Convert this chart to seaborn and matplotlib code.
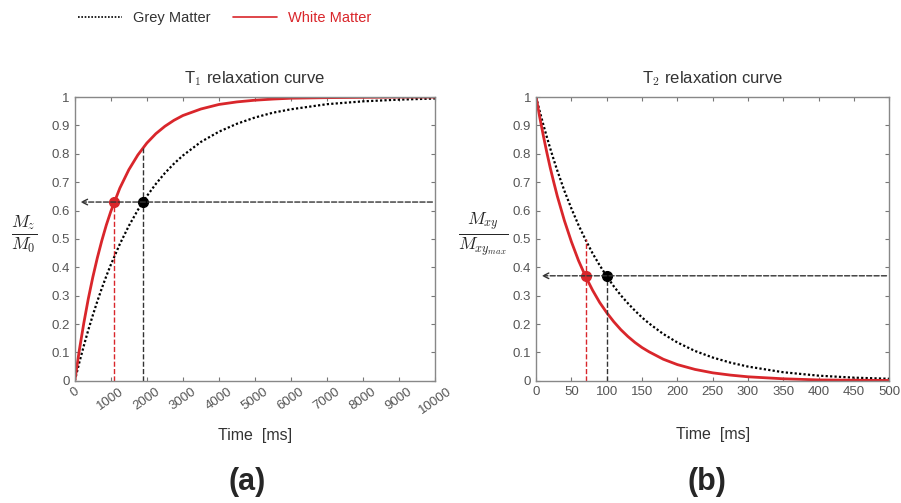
import numpy as np
import pandas as pd
import matplotlib
matplotlib.use("Agg")
import matplotlib.pyplot as plt
import seaborn as sns
from matplotlib.lines import Line2D

# -------------------------
# Data
# -------------------------
t1_time = [0, 125, 250, 375, 500, 625, 750, 875, 1000, 1250, 1500, 1750, 2000,
           2250, 2500, 2750, 3000, 3500, 4000, 4500, 5000, 5500, 6000, 7000,
           8000, 9000, 10000]
t1_white = [0, 0.107, 0.203, 0.289, 0.365, 0.433, 0.494, 0.549, 0.597, 0.679,
            0.744, 0.796, 0.838, 0.871, 0.897, 0.918, 0.935, 0.958, 0.974,
            0.983, 0.989, 0.993, 0.996, 0.998, 0.999, 1.0, 1.0]
t1_grey = [0, 0.064, 0.123, 0.179, 0.231, 0.280, 0.326, 0.369, 0.409, 0.482,
           0.546, 0.602, 0.651, 0.694, 0.732, 0.765, 0.794, 0.842, 0.878,
           0.906, 0.928, 0.945, 0.957, 0.975, 0.985, 0.991, 0.995]

t2_time = [0, 5, 10, 15, 20, 25, 30, 40, 50, 60, 70, 80, 90, 100, 110, 120,
           130, 140, 150, 160, 180, 200, 225, 250, 275, 300, 350, 400, 450, 500]
t2_white = [1.0, 0.931, 0.867, 0.807, 0.751, 0.700, 0.651, 0.565, 0.490, 0.424,
            0.368, 0.319, 0.276, 0.240, 0.208, 0.180, 0.156, 0.135, 0.117,
            0.102, 0.076, 0.057, 0.040, 0.028, 0.020, 0.014, 0.007, 0.003,
            0.002, 0.001]
t2_grey = [1.0, 0.951, 0.905, 0.861, 0.819, 0.779, 0.741, 0.670, 0.607, 0.549,
           0.497, 0.449, 0.407, 0.368, 0.333, 0.301, 0.273, 0.247, 0.223,
           0.202, 0.165, 0.135, 0.105, 0.082, 0.064, 0.050, 0.030, 0.018,
           0.011, 0.007]

# marker points (relaxation times and level)
t1_white_pt = 1100
t1_grey_pt = 1900
t1_level = 0.63
t1_grey_guide_top = 0.82

t2_white_pt = 70
t2_grey_pt = 100
t2_level = 0.37
t2_white_guide_top = 0.50

RED = "#d9262b"
GREY_TXT = "#555555"

sns.set_style("white")
plt.rcParams["font.family"] = ["Liberation Sans", "DejaVu Sans"]
plt.rcParams["mathtext.fontset"] = "cm"

fig = plt.figure(figsize=(9.01, 5.03), dpi=100)
ax1 = fig.add_axes([0.083, 0.243, 0.400, 0.564])
ax2 = fig.add_axes([0.595, 0.243, 0.392, 0.564])


def style_axes(ax, labelpad):
    for s in ax.spines.values():
        s.set_color("#888888")
        s.set_linewidth(1.0)
    ax.tick_params(direction="in", length=3, width=0.8, color="#777777",
                   top=True, right=True, labelsize=9.5, labelcolor=GREY_TXT,
                   bottom=True, left=True)
    ax.set_yticks(np.arange(0, 1.01, 0.1))
    ax.set_yticklabels(["0"] + [f"{v:.1f}" for v in np.arange(0.1, 0.95, 0.1)] + ["1"])
    ax.set_ylim(0, 1)
    ax.set_xlabel("Time  [ms]", fontsize=11.5, color="#333333", labelpad=labelpad)
    ax.set_ylabel("")


# ---- T1 panel
df1 = pd.DataFrame({"time": t1_time, "grey": t1_grey, "white": t1_white})
sns.lineplot(data=df1, x="time", y="grey", ax=ax1, color="black",
             linestyle=(0, (1, 1)), linewidth=1.6)
sns.lineplot(data=df1, x="time", y="white", ax=ax1, color=RED, linewidth=2)
ax1.annotate("", xy=(80, t1_level), xytext=(10000, t1_level),
             arrowprops=dict(arrowstyle="->", linestyle="--", color="#333333", lw=1))
ax1.plot([t1_white_pt, t1_white_pt], [0, t1_level], color=RED, ls="--", lw=1)
ax1.plot([t1_grey_pt, t1_grey_pt], [0, t1_grey_guide_top], color="#333333", ls="--", lw=1)
ax1.plot(t1_white_pt, t1_level, "o", color=RED, ms=7)
ax1.plot(t1_grey_pt, t1_level, "o", color="black", ms=7)
ax1.set_xlim(0, 10000)
ax1.set_xticks(np.arange(0, 10001, 1000))
ax1.set_xticklabels([str(v) for v in range(0, 10001, 1000)], rotation=35)
style_axes(ax1, 8)
ax1.set_title(r"T$_1$ relaxation curve", fontsize=12, color="#333333", pad=10)

# ---- T2 panel
df2 = pd.DataFrame({"time": t2_time, "grey": t2_grey, "white": t2_white})
sns.lineplot(data=df2, x="time", y="grey", ax=ax2, color="black",
             linestyle=(0, (1, 1)), linewidth=1.6)
sns.lineplot(data=df2, x="time", y="white", ax=ax2, color=RED, linewidth=2)
ax2.annotate("", xy=(4, t2_level), xytext=(500, t2_level),
             arrowprops=dict(arrowstyle="->", linestyle="--", color="#333333", lw=1))
ax2.plot([t2_white_pt, t2_white_pt], [0, t2_white_guide_top], color=RED, ls="--", lw=1)
ax2.plot([t2_grey_pt, t2_grey_pt], [0, t2_level], color="#333333", ls="--", lw=1)
ax2.plot(t2_white_pt, t2_level, "o", color=RED, ms=7)
ax2.plot(t2_grey_pt, t2_level, "o", color="black", ms=7)
ax2.set_xlim(0, 500)
ax2.set_xticks(np.arange(0, 501, 50))
style_axes(ax2, 21)
ax2.set_title(r"T$_2$ relaxation curve", fontsize=12, color="#333333", pad=10)

# y labels as fractions
fig.text(0.027, 0.535, r"$\frac{M_z}{M_0}$", fontsize=18, ha="center", va="center")
fig.text(0.537, 0.535, r"$\frac{M_{xy}}{M_{xy_{max}}}$", fontsize=18, ha="center", va="center")

# panel letters
fig.text(0.274, 0.042, "(a)", fontsize=22, fontweight="bold", ha="center", va="center")
fig.text(0.785, 0.042, "(b)", fontsize=22, fontweight="bold", ha="center", va="center")

# legend
handles = [Line2D([], [], color="black", linestyle=(0, (1, 1)), lw=1.2),
           Line2D([], [], color=RED, lw=1.2)]
fig.legend(handles, ["Grey Matter", "White Matter"], loc="center left",
           bbox_to_anchor=(0.072, 0.965), ncol=2, frameon=False, fontsize=10.5,
           labelcolor=["#333333", RED], handlelength=3, columnspacing=1.5)

fig.savefig("out.png", dpi=100)
